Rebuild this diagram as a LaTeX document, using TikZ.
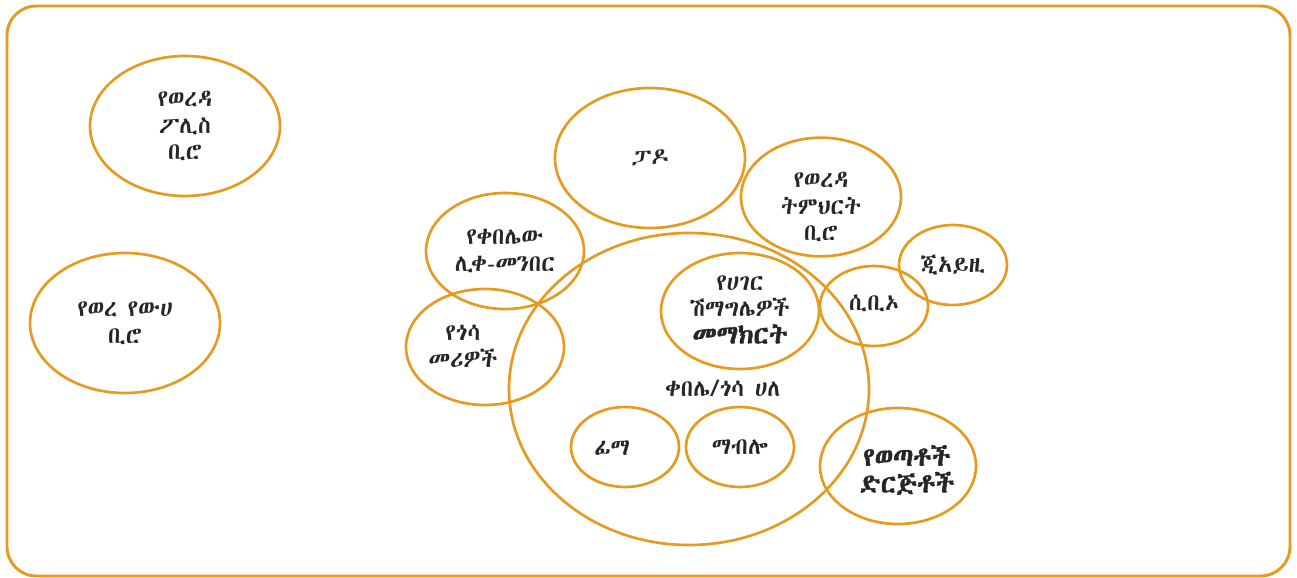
\documentclass[tikz,border=0pt]{standalone}
\usepackage{fontspec}
\IfFontExistsTF{Abyssinica SIL}{%
  \newfontfamily\eth{Abyssinica SIL}\newfontfamily\ethb[FakeBold=1.6]{Abyssinica SIL}}{%
 \IfFontExistsTF{FreeSerif}{%
  \newfontfamily\eth{FreeSerif}\newfontfamily\ethb{FreeSerif Bold}}{%
  \IfFontExistsTF{Unifont}{%
   \newfontfamily\eth{Unifont}\newfontfamily\ethb[FakeBold=1.6]{Unifont}}{%
   \newfontfamily\eth{Liberation Sans}\newfontfamily\ethb{Liberation Sans Bold}}}}
\usetikzlibrary{shapes.geometric}
\definecolor{gold}{RGB}{228,155,32}
\definecolor{ink}{RGB}{38,38,38}
\tikzset{
  frame/.style={draw=gold, line width=2.2pt, rounded corners=22pt},
  blob/.style={ellipse, draw=gold, line width=2pt, inner sep=0pt, align=center,
    text=ink, font=\eth\fontsize{17.5}{20}\selectfont},
  txt/.style={align=center, text=ink, font=\eth\fontsize{17.5}{20}\selectfont},
  bigtxt/.style={align=center, text=ink, font=\ethb\fontsize{19.5}{20}\selectfont},
}
\begin{document}
\begin{tikzpicture}[x=0.75pt,y=-0.75pt]
\useasboundingbox (0,0) rectangle (1297,578);
\draw[frame] (7,6) rectangle (1290,576);

\node[blob, minimum width=142.5pt, minimum height=105pt] (police) at (185,126) {የወረዳ\\ፖሊስ\\ቢሮ};
\node[blob, minimum width=142.5pt, minimum height=105pt] (water) at (125,323) {የወረ የውሀ\\ቢሮ};
\node[blob, minimum width=142.5pt, minimum height=105pt] (pado) at (650,158) {ፓዶ};
\node[blob, minimum width=120pt, minimum height=89pt] (edu) at (821,197) {};
\node[txt] (edutext) at (821,207) {የወረዳ\\ትምህርት\\ቢሮ};
\node[blob, minimum width=81pt, minimum height=60pt] (giz) at (953,265) {ጂአይዚ};
\node[blob, minimum width=81pt, minimum height=60pt] (cbo) at (874,306) {};
\node[txt] (cbotext) at (874,303) {ሲቢኦ};
\node[blob, minimum width=118.5pt, minimum height=87pt] (chair) at (505,251) {የቀበሌው\\ሊቀ-መንበር};
\node[blob, minimum width=118.5pt, minimum height=87pt] (clan) at (485,347) {};
\node[txt] (clantext) at (463,346) {የጎሳ\\መሪዎች};
\node[blob, minimum width=270pt, minimum height=234pt] (kebele) at (689,389) {};
\node[txt] (kebeletext) at (723,388) {ቀበሌ/ጎሳ ሀለ};
\node[blob, minimum width=118.5pt, minimum height=87pt] (elders) at (740,311) {};
\node[txt] (elderstext) at (740,296) {የሀገር\\ሽማግሌዎች};
\node[bigtxt] (elderstext2) at (740,334) {መማክርት};
\node[blob, minimum width=81pt, minimum height=60pt] (fima) at (625,447) {};
\node[txt] (fimatext) at (612,448) {ፊማ};
\node[blob, minimum width=81pt, minimum height=60pt] (mablo) at (740,447) {ማብሎ};
\node[blob, minimum width=117pt, minimum height=87pt] (youth) at (898,466) {};
\node[bigtxt] (youthtext) at (907,470) {የወጣቶች\\ድርጅቶች};
\end{tikzpicture}
\end{document}
